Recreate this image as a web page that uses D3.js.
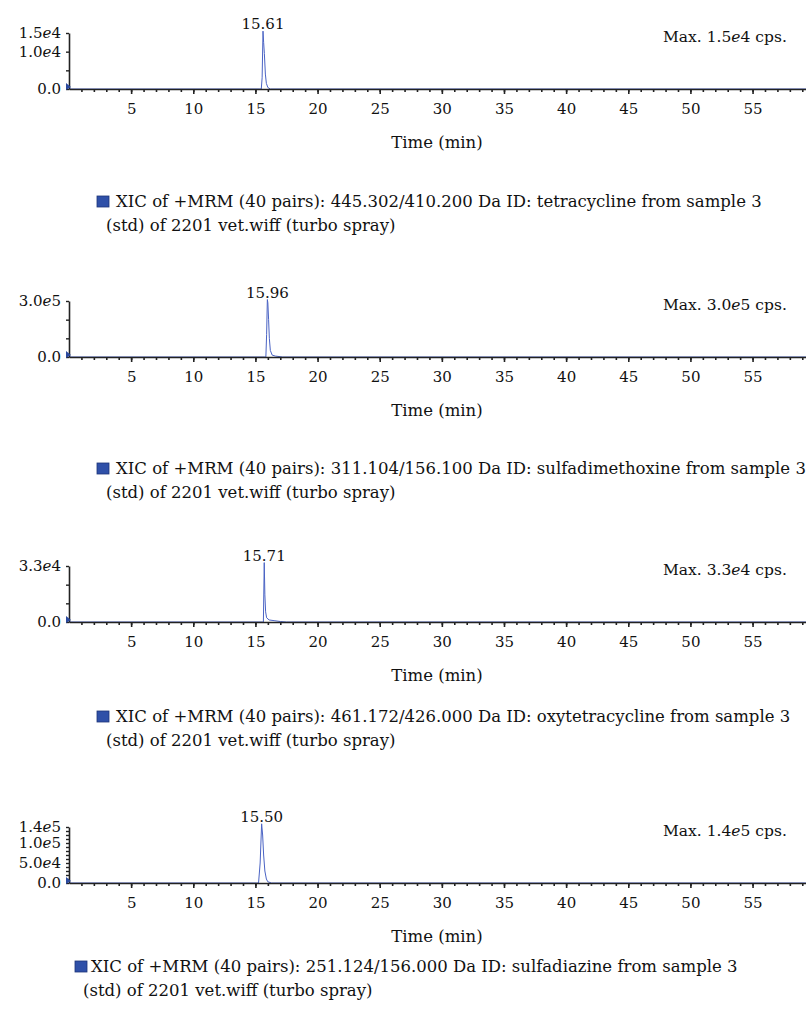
<!DOCTYPE html>
<html>
<head>
<meta charset="utf-8">
<script src="https://cdn.jsdelivr.net/npm/d3@7"></script>
<style>
  body { margin: 0; background: #fff; }
  svg text { font-family: "DejaVu Serif", serif; fill: #111; }
</style>
</head>
<body>
<svg id="chart" width="806" height="1025"></svg>
<script>
// ---- data ----
const peakLabels = ["15.61", "15.96", "15.71", "15.50"];
const peakTimes = [15.61, 15.96, 15.71, 15.5];
const maxLabels = ["1.5e4", "3.0e5", "3.3e4", "1.4e5"];

const xTicks = [5, 10, 15, 20, 25, 30, 35, 40, 45, 50, 55];
const xMinorTicks = d3.range(1, 60);

const yMax = [1.5e4, 3.0e5, 3.3e4, 1.4e5];
const yTicks1 = [0, 5000, 10000, 15000];
const yTickLabels1 = ["0.0", "", "1.0e4", "1.5e4"];
const yTicks2 = [0, 100000, 200000, 300000];
const yTickLabels2 = ["0.0", "", "", "3.0e5"];
const yTicks3 = [0, 11000, 22000, 33000];
const yTickLabels3 = ["0.0", "", "", "3.3e4"];
const yTicks4 = d3.range(0, 140001, 10000);
const yTickLabels4 = yTicks4.map(d => d === 0 ? "0.0" : d === 50000 ? "5.0e4" : d === 100000 ? "1.0e5" : d === 140000 ? "1.4e5" : "");

const trace1Time = [0, 15.3, 15.47, 15.54, 15.61, 15.66, 15.72, 15.8, 15.88, 16.0, 16.2, 59.3];
const trace1Int = [0, 0, 0, 3000, 15500, 12500, 9500, 4000, 1500, 400, 0, 0];
const trace2Time = [0, 15.7, 15.84, 15.9, 15.96, 16.0, 16.06, 16.12, 16.2, 16.35, 16.6, 17.2, 59.3];
const trace2Int = [0, 0, 0, 120000, 308000, 290000, 200000, 100000, 35000, 10000, 5000, 0, 0];
const trace3Time = [0, 15.55, 15.64, 15.71, 15.76, 15.82, 15.9, 16.1, 16.5, 17.0, 17.5, 59.3];
const trace3Int = [0, 0, 0, 35000, 16000, 6000, 2500, 1200, 800, 300, 0, 0];
const trace4Time = [0, 15.1, 15.25, 15.38, 15.5, 15.58, 15.66, 15.76, 15.88, 16.0, 16.3, 59.3];
const trace4Int = [0, 0, 0, 50000, 148000, 120000, 70000, 30000, 10000, 3000, 0, 0];

const legendLine1 = [
  "XIC of +MRM (40 pairs): 445.302/410.200 Da ID: tetracycline from sample 3",
  "XIC of +MRM (40 pairs): 311.104/156.100 Da ID: sulfadimethoxine from sample 3",
  "XIC of +MRM (40 pairs): 461.172/426.000 Da ID: oxytetracycline from sample 3",
  "XIC of +MRM (40 pairs): 251.124/156.000 Da ID: sulfadiazine from sample 3"
];
const legendLine2 = "(std) of 2201 vet.wiff (turbo spray)";

// ---- layout ----
const panels = [
  { base: 89, top: 33, times: trace1Time, vals: trace1Int, ticks: yTicks1, labels: yTickLabels1, leg: 202, sq: 97, tx: 116, l2: 106 },
  { base: 357, top: 301, times: trace2Time, vals: trace2Int, ticks: yTicks2, labels: yTickLabels2, leg: 469, sq: 97, tx: 116, l2: 106 },
  { base: 622, top: 566, times: trace3Time, vals: trace3Int, ticks: yTicks3, labels: yTickLabels3, leg: 717, sq: 97, tx: 116, l2: 106 },
  { base: 883, top: 827, times: trace4Time, vals: trace4Int, ticks: yTicks4, labels: yTickLabels4, leg: 967, sq: 75, tx: 91, l2: 83 }
];

const svg = d3.select("#chart");
const x = d3.scaleLinear().domain([0, 59.3]).range([69, 806]);
const lineColor = "#4a63c4";
const fs = 15;      // numbers
const fsText = 16.5; // words

function sciText(sel, str) {
  // render "1.5e4" with an italic e
  const parts = str.split("e");
  sel.text(null);
  sel.append("tspan").text(parts[0]);
  if (parts.length > 1) {
    sel.append("tspan").attr("font-style", "italic").text("e");
    sel.append("tspan").text(parts[1]);
  }
}

panels.forEach(function (p, i) {
  const g = svg.append("g");
  const y = d3.scaleLinear().domain([0, yMax[i]]).range([p.base, p.top]);

  // trace
  const pts = p.times.map((t, k) => [t, p.vals[k]]);
  g.append("path")
    .datum(pts)
    .attr("fill", "none")
    .attr("stroke", lineColor)
    .attr("stroke-width", 1)
    .attr("d", d3.line().x(d => x(d[0])).y(d => y(d[1])));

  // x axis minor + major
  g.append("g")
    .attr("transform", `translate(0, ${p.base})`)
    .call(d3.axisBottom(x).tickValues(xMinorTicks).tickSize(3).tickSizeOuter(0).tickFormat(""))
    .call(a => a.select(".domain").attr("stroke", "#222").attr("stroke-width", 1.6))
    .call(a => a.selectAll(".tick line").attr("stroke", "#222").attr("stroke-width", 1.6));

  g.append("g")
    .attr("transform", `translate(0, ${p.base})`)
    .call(d3.axisBottom(x).tickValues(xTicks).tickSize(5).tickPadding(9).tickSizeOuter(0))
    .call(a => a.select(".domain").remove())
    .call(a => a.selectAll(".tick line").attr("stroke", "#222").attr("stroke-width", 1.6))
    .call(a => a.selectAll(".tick text").attr("font-size", fs).attr("font-family", "DejaVu Serif").attr("fill", "#111"));

  // y axis
  const ya = g.append("g")
    .attr("transform", `translate(${x(0)}, 0)`)
    .call(d3.axisLeft(y).tickValues(p.ticks).tickSize(3).tickPadding(5).tickSizeOuter(0)
      .tickFormat((d, k) => p.labels[k]));
  ya.select(".domain").attr("stroke", "#222").attr("stroke-width", 1.6);
  ya.selectAll(".tick line").attr("stroke", "#222").attr("stroke-width", 1.4);
  ya.selectAll(".tick text")
    .attr("font-size", fs)
    .attr("font-family", "DejaVu Serif")
    .attr("fill", "#111")
    .each(function (d, k) { sciText(d3.select(this), p.labels[k]); });

  // origin marker
  g.append("path")
    .attr("d", `M${x(0) - 3},${p.base - 6} L${x(0) + 2},${p.base - 2} L${x(0) - 3},${p.base + 1} Z`)
    .attr("fill", "#2c4a9e");

  // peak label
  g.append("text")
    .attr("x", x(peakTimes[i]))
    .attr("y", y(d3.max(p.vals)) - 2)
    .attr("text-anchor", "middle")
    .attr("font-size", fs)
    .text(peakLabels[i]);

  // max label
  const mt = g.append("text")
    .attr("x", 663)
    .attr("y", p.base - 47)
    .attr("font-size", 15.5);
  const mp = maxLabels[i].split("e");
  mt.append("tspan").text("Max. " + mp[0]);
  mt.append("tspan").attr("font-style", "italic").text("e");
  mt.append("tspan").text(mp[1] + " cps.");

  // x label
  g.append("text")
    .attr("x", 437)
    .attr("y", p.base + 59)
    .attr("text-anchor", "middle")
    .attr("font-size", fsText)
    .text("Time (min)");

  // legend
  g.append("rect")
    .attr("x", p.sq)
    .attr("y", p.leg - 6)
    .attr("width", 12)
    .attr("height", 11)
    .attr("fill", "#2f50a8")
    .attr("stroke", "#1d3478")
    .attr("stroke-width", 0.8);
  g.append("text")
    .attr("x", p.tx)
    .attr("y", p.leg + 5)
    .attr("font-size", fsText)
    .text(legendLine1[i]);
  g.append("text")
    .attr("x", p.l2)
    .attr("y", p.leg + 29)
    .attr("font-size", fsText)
    .text(legendLine2);
});
</script>
</body>
</html>
